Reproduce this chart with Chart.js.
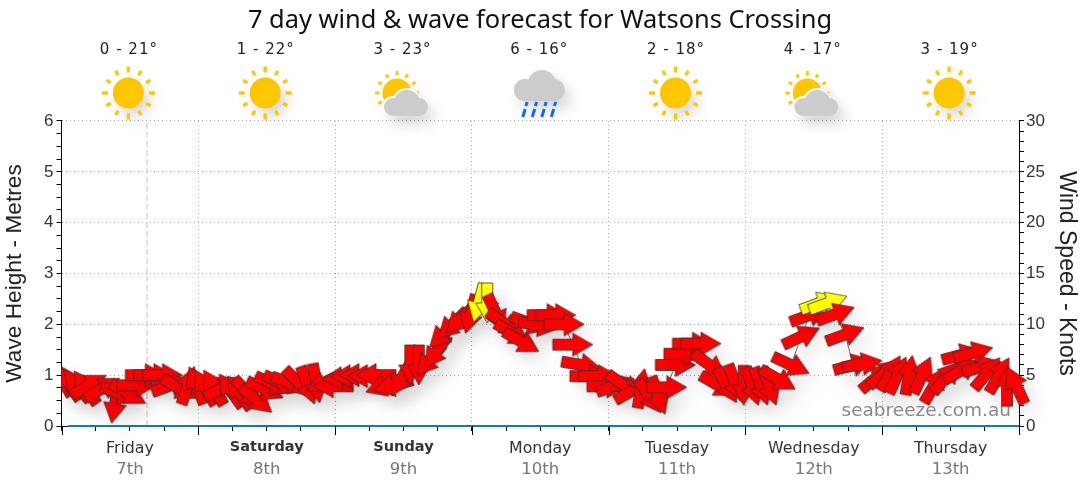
<!DOCTYPE html>
<html><head><meta charset="utf-8">
<style>html,body{margin:0;padding:0;background:#fff}canvas{display:block}</style>
<script src="https://cdn.jsdelivr.net/npm/chart.js@4"></script>
</head><body><canvas id="c" width="1080" height="490"></canvas>
<script>
const dayNames=['Friday','Saturday','Sunday','Monday','Tuesday','Wednesday','Thursday'];
const dayDates=['7th','8th','9th','10th','11th','12th','13th'];
const boldDays=['Saturday','Sunday'];
const temps=['0 - 21°','1 - 22°','3 - 23°','6 - 16°','2 - 18°','4 - 17°','3 - 19°'];
const skies=['sun','sun','part','rain','sun','part','sun'];
const hours=[0,1.2,2.7,4.2,4.8,7.2,9.4,10.2,11.7,13.2,14.7,16.2,17.7,19.2,20.7,22.2,23.7,25.2,26.7,28.2,29.7,31.2,32.7,34.2,35.7,37.2,38.7,40.2,41.7,43.2,44.7,46.2,47.7,49.2,50.7,52.2,53.7,55.2,56.7,58.2,59.7,61.2,62.7,64.6,65.8,67.1,68.6,70.0,71.8,73.2,74.7,76.2,77.7,79.2,80.7,82.2,83.7,85.2,86.7,88.2,89.7,91.2,92.7,94.2,95.7,97.2,98.7,100.2,101.7,103.2,104.7,106.2,107.7,109.2,110.7,112.2,113.7,115.2,116.7,118.2,119.7,121.2,122.7,124.2,125.7,128.0,129.8,131.2,133.0,134.5,135.8,137.5,138.9,140.5,143.0,144.4,145.4,146.7,148.7,151.0,153.1,155.2,157.9,158.0,160.0,161.5,162.4,164.5,165.9,167.5];
const windKnots=[4.7,4.2,4,3.8,4,3.7,2.2,3.2,3.2,4,5,5,5,4,3.7,4,4,3.8,3.8,3.8,3.5,3.3,3.2,2.6,3.6,4.1,4.2,4.2,4.2,4,4.2,4.3,3.9,4.7,4.9,5,4.9,5,4,4,4.7,6,6,6.5,7.3,9.1,10,10.5,11,12.1,12.1,11.1,10.1,9.1,8.3,10.1,9.9,10.9,10.9,10,8,6,4.9,4.9,3.9,4,4,3.5,3.7,2.9,3,3.8,6,7.1,8.1,8.1,6,4,4,4.2,4,3.9,3.9,3.9,4.6,6,8.8,10.9,12.1,12.1,11,9,6,6.1,4.8,5.2,5.2,5,5,5,4,4.8,7,5.5,7.2,5.8,5.2,5,3.9,4];
const windPointing=[-120,-125,-130,-125,-30,-30,100,20,30,0,0,0,0,-20,30,-71,-112,-120,-120,-30,-125,-125,48,40,25,25,25,20,45,70,80,155,180,175,178,180,180,180,160,165,120,90,90,130,125,136,136,136,105,105,90,65,35,30,30,20,10,0,0,0,0,10,0,0,0,-20,35,-30,-80,55,70,0,0,0,0,0,35,30,60,70,90,72,70,70,30,25,-25,-20,-20,-20,-20,-20,-15,-10,-40,-40,-60,-65,-80,-65,-60,-50,-15,-30,-15,-15,-50,-60,-90,-115];
const waveHours=[1.1,168];
const waveMetres=[0,0];
const nowHours=[15,15];
const nowMetres=[0,6];
const yellowFrom=12;

function arrow(fill){
  const c=document.createElement('canvas');c.width=44;c.height=44;
  const g=c.getContext('2d');
  g.beginPath();
  [[2,16.5],[22,16.5],[22,10.5],[42,22],[22,33.5],[22,27.5],[2,27.5]].forEach((p,i)=>i?g.lineTo(p[0],p[1]):g.moveTo(p[0],p[1]));
  g.closePath();g.fillStyle=fill;g.fill();g.strokeStyle='#333';g.lineWidth=0.8;g.stroke();
  return c;
}
const redArrow=arrow('#ff0000'),yellowArrow=arrow('#ffff00');

function sun(g,x,y,r,rIn,long,short,w){
  g.fillStyle='#ffc800';g.strokeStyle='#ffc800';g.lineWidth=w;
  g.beginPath();g.arc(x,y,r,0,Math.PI*2);g.fill();
  for(let i=0;i<12;i++){
    const a=i*Math.PI/6,l=i%3==0?long:short;
    g.beginPath();g.moveTo(x+Math.cos(a)*rIn,y+Math.sin(a)*rIn);g.lineTo(x+Math.cos(a)*(rIn+l),y+Math.sin(a)*(rIn+l));g.stroke();
  }
}
function cloud(g,parts,x0,x1,y1){
  g.beginPath();
  parts.forEach(p=>{g.moveTo(p[0]+p[2],p[1]);g.arc(p[0],p[1],p[2],0,Math.PI*2);});
  g.rect(x0,y1-12,x1-x0,12);
  g.fill();
}
const iconPlugin={id:'icons',afterDraw(chart){
  const g=chart.ctx,sx=chart.scales.x;
  g.save();
  temps.forEach((t,i)=>{
    const cx=sx.getPixelForValue(12+24*i)-1.5;
    g.fillStyle='#222';g.font='15px "DejaVu Sans"';g.textAlign='center';g.textBaseline='middle';
    g.letterSpacing='1px';g.fillText(t,cx+0.5,50);g.letterSpacing='0px';
    g.save();
    g.shadowColor='rgba(0,0,0,0.16)';g.shadowBlur=14;g.shadowOffsetX=6;g.shadowOffsetY=8;
    if(skies[i]=='sun'){sun(g,cx,93,15.5,20.5,6,5,3.4);}
    else if(skies[i]=='part'){
      sun(g,cx-5,93,14.5,17.5,4.5,4,3);
      g.fillStyle='#fff';g.shadowColor='transparent';
      cloud(g,[[cx+5,103,15],[cx-9,107,11],[cx+17,107,11]],cx-10,cx+18,118);
      g.shadowColor='rgba(0,0,0,0.16)';
      g.fillStyle='#cccccc';
      cloud(g,[[cx+5,103,13],[cx-9,107,9],[cx+17,107,9]],cx-9,cx+17,116);
    } else {
      g.fillStyle='#cccccc';
      cloud(g,[[cx+3,84,14],[cx-14,90,11],[cx+15,90,11]],cx-14,cx+15,101);
      g.shadowColor='transparent';g.strokeStyle='#0a6cff';g.lineWidth=3;
      for(let k=0;k<4;k++){
        const xx=cx-13+k*9.5;
        g.beginPath();g.moveTo(xx+1.5,102);g.lineTo(xx,106);g.moveTo(xx-0.5,109);g.lineTo(xx-3,117);g.stroke();
      }
    }
    g.restore();
  });
  g.fillStyle='rgba(90,90,90,0.72)';g.font='18.5px "DejaVu Sans"';g.textAlign='right';g.textBaseline='middle';
  g.fillText('seabreeze.com.au',1011,411);
  g.strokeStyle='#000';g.lineWidth=1;
  for(let i=0;i<=7;i++){const x=Math.round(sx.getPixelForValue(24*i))+0.5;g.beginPath();g.moveTo(x,chart.chartArea.bottom);g.lineTo(x,chart.chartArea.bottom+9);g.stroke();}
  g.restore();
}};
const shadowPlugin={id:'shadow',
  beforeDatasetDraw(chart,args){if(args.index!==0)return;const g=chart.ctx;g.save();g.shadowColor='rgba(0,0,0,0.09)';g.shadowBlur=18;g.shadowOffsetX=8;g.shadowOffsetY=10;},
  afterDatasetDraw(chart,args){if(args.index!==0)return;chart.ctx.restore();}
};
const isBold=ctx=>ctx.tick&&boldDays.includes(dayNames[(ctx.tick.value-12)/24]);
const labelFont=ctx=>({family:'"DejaVu Sans"',size:isBold(ctx)?14.5:15.8,weight:isBold(ctx)?'bold':'normal'});
new Chart(document.getElementById('c'),{
  type:'line',
  data:{datasets:[
    {label:'Wind',yAxisID:'yR',xAxisID:'x',order:0,data:hours.map((h,i)=>({x:h,y:windKnots[i]})),borderColor:'#777',borderWidth:1,tension:0,fill:false,
     pointStyle:ctx=>windKnots[ctx.dataIndex]>=yellowFrom?yellowArrow:redArrow,rotation:ctx=>windPointing[ctx.dataIndex],clip:{left:0,top:false,right:false,bottom:false}},
    {label:'Now',yAxisID:'y',xAxisID:'x',order:2,data:nowHours.map((h,i)=>({x:h,y:nowMetres[i]})),borderColor:'#d8bcbc',borderWidth:1,borderDash:[6,3],pointRadius:0,clip:false},
    {label:'Wave',yAxisID:'y',xAxisID:'x',order:1,data:waveHours.map((h,i)=>({x:h,y:waveMetres[i]})),borderColor:'#0a7fb4',borderWidth:2,pointRadius:0,clip:false}
  ]},
  options:{responsive:false,animation:false,events:[],
    layout:{padding:0},
    plugins:{legend:{display:false},tooltip:{enabled:false},
      title:{display:true,text:'7 day wind & wave forecast for Watsons Crossing',color:'#111',font:{family:'"Noto Sans"',size:25.4,weight:'normal',lineHeight:1.2},padding:{top:6,bottom:84.5}}},
    scales:{
      x:{type:'linear',min:0,max:168,position:'bottom',afterFit(s){s.height=33},
        ticks:{stepSize:6,autoSkip:false,maxRotation:0,padding:8,color:'#333',font:labelFont,callback:v=>v%24==12?dayNames[(v-12)/24]:''},
        grid:{color:c=>(c.tick&&c.tick.value%24==0&&c.tick.value>0&&c.tick.value<168)?'#aaa':'transparent',tickColor:'#000',tickLength:5},
        border:{color:'#000',dash:[1,3]}},
      x2:{axis:'x',type:'linear',min:0,max:168,position:'bottom',afterFit(s){s.height=31},
        ticks:{stepSize:6,autoSkip:false,maxRotation:0,padding:1,color:'#777',font:{family:'"DejaVu Sans"',size:16.5},callback:v=>v%24==12?dayDates[(v-12)/24]:''},
        grid:{display:false,drawTicks:false},border:{display:false}},
      y:{min:0,max:6,position:'left',afterFit(s){s.width=61.5},
        ticks:{stepSize:0.25,autoSkip:false,padding:3,color:'#333',font:{family:'"Liberation Sans"',size:17},callback:v=>Number.isInteger(v)?v:''},
        grid:{color:c=>(c.tick&&Number.isInteger(c.tick.value)&&c.tick.value>0)?'#aaa':'transparent',tickColor:'#000',tickLength:5},
        border:{color:'#000',dash:[1,3]},
        title:{display:true,text:'Wave Height - Metres',color:'#222',font:{family:'"Liberation Sans"',size:22.7},padding:{top:1,bottom:0}}},
      yR:{min:0,max:30,position:'right',afterFit(s){s.width=61},
        ticks:{stepSize:1,autoSkip:false,padding:2,color:'#333',font:{family:'"Liberation Sans"',size:17},callback:v=>v%5==0?v:''},
        grid:{display:true,drawOnChartArea:false,tickColor:'#000',tickLength:5},
        border:{color:'#000'},
        title:{display:true,text:'Wind Speed - Knots',color:'#222',font:{family:'"Liberation Sans"',size:23},padding:{top:0,bottom:0}}}
    }
  },
  plugins:[iconPlugin,shadowPlugin]
});
</script></body></html>
